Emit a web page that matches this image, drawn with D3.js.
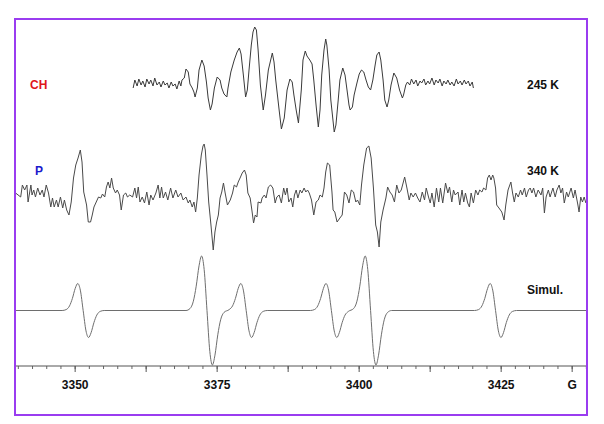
<!DOCTYPE html>
<html>
<head>
<meta charset="utf-8">
<script src="https://cdn.jsdelivr.net/npm/d3@7"></script>
<style>
  html, body { margin: 0; padding: 0; background: #fff; }
  svg { display: block; }
  text { font-family: Arial, "Liberation Sans", sans-serif; font-weight: bold; }
</style>
</head>
<body>
<div id="chart"></div>
<script>
// ---------------- data (field in gauss, signal in arbitrary units) ----------------
const fieldDomain = [3339.5, 3440.2];
const tickValues = [3350, 3375, 3400, 3425, 3437.5];
const tickLabels = ["3350", "3375", "3400", "3425", "G"];

const traceNames = ["CH", "P", ""];
const traceTemps = ["245 K", "340 K", "Simul."];

// 245 K (CH)
const topField = [
  3360.3,3360.6,3361.0,3361.3,3361.7,3362.0,3362.4,3362.7,3363.1,3363.4,3363.8,3364.1,3364.5,3364.9,3365.2,3365.6,3365.9,3366.3,3366.6,3367.0,3367.3,3367.7,3368.0,3368.4,3368.7,3368.9,
  3369.3,3369.6,3370.0,3370.3,3370.7,3371.0,3371.2,3371.6,3371.9,3372.4,
  3372.8,3373.2,3373.5,3373.9,3374.2,3374.6,3375.1,3375.6,3375.9,3376.3,
  3376.8,3377.0,3377.5,3378.1,3378.6,3379.0,3379.3,3379.7,3380.1,3380.4,
  3380.7,3381.1,3381.4,3381.7,3382.0,3382.3,3382.7,3383.2,3383.6,3384.1,
  3384.8,3385.1,3385.4,3386.0,3386.4,3386.9,3387.4,3387.9,3388.3,3388.6,
  3389.0,3389.4,3389.9,3390.2,3390.6,3390.9,3391.4,3391.8,3392.1,3392.5,
  3392.9,3393.2,3393.5,3393.9,3394.2,3394.4,3394.8,3395.1,3395.7,3396.0,
  3396.4,3396.7,3397.2,3397.6,3398.0,3398.3,3398.5,3398.9,3399.2,3399.7,
  3400.1,3400.5,3400.9,3401.3,3401.7,3402.1,3402.5,3402.9,3403.2,3403.6,
  3403.9,3404.3,3404.6,3405.0,3405.3,3405.7,3406.2,3406.7,3407.2,3407.7,
  3407.9,3408.3,
  3408.6,3409.0,3409.3,3409.7,3410.1,3410.4,3410.8,3411.1,3411.5,3411.8,3412.2,3412.5,3412.9,3413.3,3413.6,3414.0,3414.3,3414.7,3415.0,3415.4,3415.7,3416.1,3416.4,3416.8,3417.2,3417.5,3417.9,3418.2,3418.6,3418.9,3419.3,3419.6,3420.0,3420.2
];
const topSignal = [
  -5,3,-3,4,-2,2,-4,4,-1,3,-3,5,-2,1,-4,2,-2,0,-5,1,-3,-1,-6,2,-3,3,
  5,14,11,-1,-5,-9,-14,-5,13,23,
  17,1,-15,-27,-21,-5,6,3,-5,-11,
  -14,-5,11,23,31,35,29,8,-14,-7,
  13,38,51,56,53,33,-2,-27,-12,13,
  30,21,3,-27,-46,-35,-7,4,1,-12,
  -27,-40,-7,23,32,27,23,19,3,-22,
  -44,-27,8,33,44,38,13,-17,-49,-42,
  -17,3,15,8,-9,-22,-27,-24,-12,0,
  9,13,11,3,-4,-7,3,18,28,31,
  23,3,-17,-24,-17,-2,10,5,-7,-15,
  -12,-2,
  1,-2,4,-1,3,-3,2,0,4,-2,2,-1,5,-2,3,0,4,-3,2,-1,3,-2,1,-3,4,-1,2,-2,3,-1,2,-3,1,-5
];

// 340 K (P)
const midField = [
  3339.6,3340.5,3340.8,3341.2,3341.6,3341.8,3342.3,3342.5,3342.8,3343.1,
  3343.5,3343.9,3344.3,3344.6,3345.0,3345.4,3345.8,3346.1,3346.4,3346.8,
  3347.1,3347.5,3347.9,3348.2,3348.6,3349.0,3349.4,3349.8,3350.2,3350.6,
  3351.0,3351.3,3351.6,3352.1,3352.4,3352.8,3353.1,3353.4,3353.8,3354.2,
  3354.6,3354.9,3355.3,3355.6,3355.9,3356.2,3356.5,3356.8,3357.2,3357.5,
  3357.9,3358.2,3358.6,3359.0,3359.3,3359.7,3360.2,3360.6,3360.9,3361.2,
  3361.5,3361.9,3362.3,3362.7,3363.1,3363.4,3363.8,3364.3,3364.7,3365.0,
  3365.3,3365.6,3366.0,3366.4,3366.9,3367.3,3367.8,3368.2,3368.7,3369.1,
  3369.6,3370.0,3370.3,3370.7,3371.0,3371.3,3371.6,3371.9,3372.3,3372.6,
  3372.8,3373.0,3373.3,3373.6,3374.0,3374.4,3374.7,3375.0,3375.3,3375.6,
  3375.9,3376.2,3376.5,3376.9,3377.4,3377.8,3378.1,3378.5,3378.8,3379.2,
  3379.5,3379.9,3380.2,3380.5,3380.9,3381.2,3381.5,3381.8,3382.1,3382.3,
  3382.8,3383.0,3383.4,3383.7,3384.1,3384.5,3384.9,3385.3,3385.6,3386.0,
  3386.4,3386.8,3387.1,3387.4,3387.7,3388.1,3388.4,3388.7,3389.0,3389.3,
  3389.7,3390.0,3390.4,3390.7,3391.0,3391.3,3391.7,3392.1,3392.5,3392.9,
  3393.2,3393.6,3393.9,3394.2,3394.5,3394.9,3395.3,3395.5,3395.8,3396.2,
  3396.7,3397.1,3397.5,3397.9,3398.3,3398.7,3399.1,3399.5,3399.8,3400.2,
  3400.5,3400.9,3401.4,3401.8,3402.2,3402.6,3403.0,3403.3,3403.6,3403.9,
  3404.3,3404.8,3405.1,3405.5,3405.9,3406.3,3406.7,3407.1,3407.5,3408.1,
  3408.5,3408.9,3409.2,3409.6,3410.0,3410.4,3410.8,3411.2,3411.6,3411.9,
  3412.3,3412.6,3412.9,3413.3,3413.7,3414.1,3414.4,3414.8,3415.3,3415.7,
  3416.0,3416.4,3416.7,3417.0,3417.5,3417.8,3418.2,3418.5,3418.8,3419.2,
  3419.5,3419.8,3420.2,3420.6,3421.0,3421.3,3421.7,3422.0,3422.4,3422.7,
  3423.0,3423.3,3423.6,3423.8,3424.1,3424.3,3424.7,3425.2,3425.6,3425.9,
  3426.3,3426.8,3427.1,3427.4,3427.7,3428.1,3428.5,3428.8,3429.2,3429.5,
  3429.9,3430.2,3430.5,3430.8,3431.2,3431.6,3432.1,3432.4,3432.7,3433.0,
  3433.4,3433.7,3434.2,3434.6,3434.9,3435.3,3435.6,3435.9,3436.2,3436.6,
  3436.9,3437.4,3437.8,3438.1,3438.6,3438.8,3439.1,3439.4,3439.7,3440.0
];
const midSignal = [
  4,0,12,7,12,-5,12,2,7,0,
  9,2,7,0,12,4,-10,-1,-10,-3,
  -10,0,-11,-3,-13,-18,-5,19,32,39,
  47,35,5,-8,-25,-25,-18,-10,-5,0,
  -1,3,0,10,15,9,19,9,4,7,
  2,-13,2,4,0,2,0,9,-1,10,
  -5,0,-6,5,-8,2,-3,4,12,-1,
  10,-1,5,-3,9,-1,7,0,4,-3,
  0,-6,-3,-10,-5,-15,-1,22,42,51,
  53,47,22,-5,-28,-53,-35,-25,-18,-1,
  5,14,4,-8,-3,4,12,10,15,20,
  24,27,22,4,-1,-13,-26,-18,-20,-5,
  -6,-1,2,-1,10,12,9,-6,0,2,
  -6,9,2,9,-5,-1,-10,2,7,-1,
  7,4,9,5,7,4,-3,-18,-5,-3,
  2,0,9,25,34,32,5,-13,-15,-25,
  -21,-18,5,2,-6,7,5,-5,-3,-8,
  12,32,49,51,39,9,-28,-35,-50,-25,
  -13,-1,10,5,2,-5,12,4,7,20,
  9,-3,4,0,4,-1,-5,5,-3,9,
  0,-6,4,-10,9,-5,9,-6,14,4,
  10,-5,7,2,5,-8,7,-5,4,-6,
  -10,4,-6,7,2,7,5,9,7,19,
  22,17,22,19,9,-8,-11,-15,-23,-8,
  7,15,4,-5,4,0,7,2,9,0,
  7,9,4,9,0,7,2,9,-16,0,
  7,0,9,0,7,12,4,9,-6,5,
  0,9,-1,7,-8,-15,0,-5,0,-6
];

// simulation
const simField = [
  3339.5,3347.8,
  3348.5,3349.1,3349.6,3350.1,3350.55,3351.0,3351.5,3352.0,3352.45,3352.9,3353.4,3353.9,3354.5,
  3355.2,3369.6,
  3370.3,3370.9,3371.4,3371.9,3372.35,3372.8,3373.3,3373.8,3374.25,3374.7,3375.2,3375.7,3376.3,
  3377.2,3377.8,3378.3,3378.8,3379.25,3379.7,3380.2,3380.7,3381.15,3381.6,3382.1,3382.6,3383.2,
  3383.9,3391.5,
  3392.2,3392.8,3393.3,3393.8,3394.25,3394.7,3395.2,3395.7,3396.15,3396.6,3397.1,3397.6,3398.2,
  3399.1,3399.7,3400.2,3400.7,3401.15,3401.6,3402.1,3402.6,3403.05,3403.5,3404.0,3404.5,3405.1,
  3405.8,3420.4,
  3421.1,3421.7,3422.2,3422.7,3423.15,3423.6,3424.1,3424.6,3425.05,3425.5,3426.0,3426.5,3427.1,
  3427.8,3440.2
];
const simSignal = [
  0,0,
  0.9,4.6,12,22.1,27,20.4,0,-20.4,-27,-22.1,-12,-4.6,-0.9,
  0,0,
  1.9,9.3,24.3,44.7,54.5,41.1,0,-41.1,-54.5,-44.7,-24.3,-9.3,-1.9,
  0.9,4.6,12,22.1,27,20.4,0,-20.4,-27,-22.1,-12,-4.6,-0.9,
  0,0,
  0.9,4.6,12,22.1,27,20.4,0,-20.4,-27,-22.1,-12,-4.6,-0.9,
  1.9,9.3,24.3,44.7,54.5,41.1,0,-41.1,-54.5,-44.7,-24.3,-9.3,-1.9,
  0,0,
  0.9,4.6,12,22.1,27,20.4,0,-20.4,-27,-22.1,-12,-4.6,-0.9,
  0,0
];

// ---------------- drawing ----------------
const W = 604, H = 424;
const frame = { left: 15, top: 19, right: 587, bottom: 415 };
const axisY = 366;
const baselines = [83, 197, 310.5];

const svg = d3.select("#chart").append("svg")
  .attr("width", W).attr("height", H);

svg.append("rect").attr("width", W).attr("height", H).attr("fill", "#fff");

const x = d3.scaleLinear().domain(fieldDomain).range([frame.left, frame.right]);
const y = d3.scaleLinear().domain([-60, 60]).range([60, -60]);

const traces = [
  { field: topField, signal: topSignal, color: "#3a3a3a", curve: d3.curveLinear },
  { field: midField, signal: midSignal, color: "#4a4a4a", curve: d3.curveLinear },
  { field: simField, signal: simSignal, color: "#6e6e6e", curve: d3.curveMonotoneX }
];

traces.forEach((t, i) => {
  const pts = t.field.map((f, k) => [f, t.signal[k]]);
  const line = d3.line().x(d => x(d[0])).y(d => y(d[1])).curve(t.curve);
  svg.append("g").attr("transform", `translate(0,${baselines[i]})`)
    .append("path").datum(pts)
    .attr("d", line)
    .attr("fill", "none")
    .attr("stroke", t.color)
    .attr("stroke-width", 1)
    .attr("stroke-linejoin", "round");
});

// axis
const minorTicks = d3.range(3340, 3440.1, 2.5);
const majorTicks = d3.range(3350, 3440, 12.5);
const gMinor = svg.append("g").attr("transform", `translate(0,${axisY})`)
  .call(d3.axisBottom(x).tickValues(minorTicks).tickSize(3).tickFormat("").tickSizeOuter(0));
gMinor.select(".domain").remove();
gMinor.selectAll("line").attr("stroke", "#666");

const gMajor = svg.append("g").attr("transform", `translate(0,${axisY})`)
  .call(d3.axisBottom(x).tickValues(majorTicks).tickSize(6).tickFormat("").tickSizeOuter(0));
gMajor.select(".domain").remove();
gMajor.selectAll("line").attr("stroke", "#555");

const gLab = svg.append("g").attr("transform", `translate(0,${axisY})`)
  .call(d3.axisBottom(x).tickValues(tickValues).tickSize(0)
    .tickFormat((d, i) => tickLabels[i]));
gLab.select(".domain").remove();
gLab.selectAll("text")
  .attr("dy", null).attr("y", 23)
  .attr("font-size", 12).attr("font-weight", "bold")
  .attr("font-family", 'Arial, "Liberation Sans", sans-serif')
  .attr("fill", "#111");

svg.append("line")
  .attr("x1", frame.left).attr("x2", frame.right)
  .attr("y1", axisY).attr("y2", axisY)
  .attr("stroke", "#555").attr("stroke-width", 1);

// labels
const nameColors = ["#e0151b", "#1a1acc", "#000"];
const nameX = [30, 35];
const labelBase = [89, 175, 294];
traceNames.forEach((n, i) => {
  if (!n) return;
  svg.append("text").attr("x", nameX[i]).attr("y", labelBase[i])
    .attr("font-size", 12).attr("fill", nameColors[i]).text(n);
});
traceTemps.forEach((n, i) => {
  svg.append("text").attr("x", 527).attr("y", labelBase[i])
    .attr("font-size", 12).attr("fill", "#111").text(n);
});

// frame
svg.append("rect")
  .attr("x", frame.left).attr("y", frame.top)
  .attr("width", frame.right - frame.left).attr("height", frame.bottom - frame.top)
  .attr("fill", "none").attr("stroke", "#9a3cf0").attr("stroke-width", 2);
</script>
</body>
</html>
